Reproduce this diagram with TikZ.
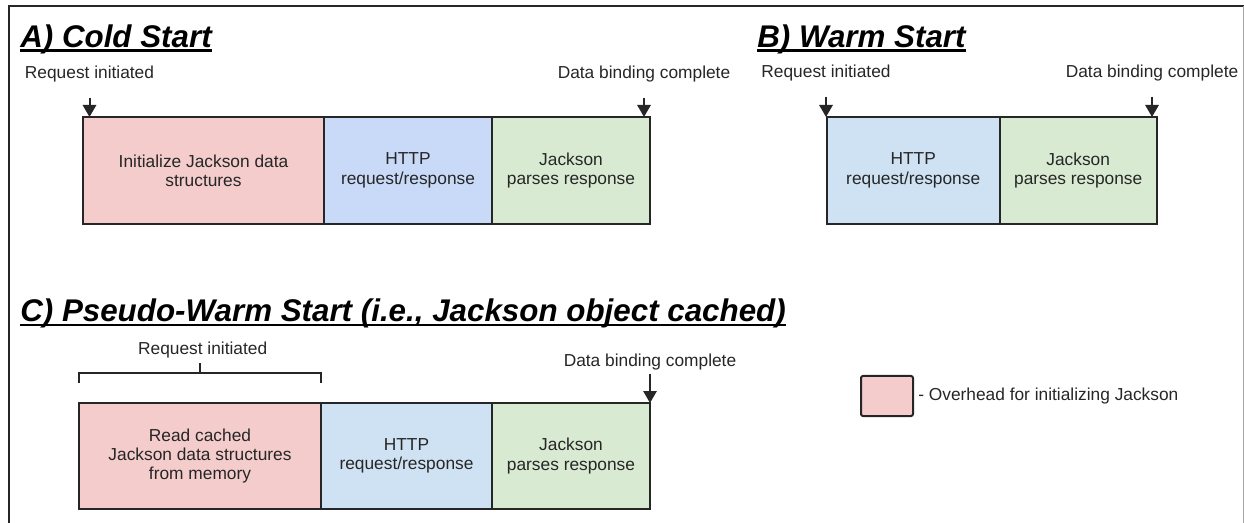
\documentclass[tikz,border=0pt]{standalone}
\usepackage{fontspec}
\setmainfont{Liberation Sans}
\usepackage{xcolor}
\usetikzlibrary{arrows.meta}
\usetikzlibrary{positioning}

\definecolor{overheadpink}{HTML}{F4CCCC}
\definecolor{httpblue}{HTML}{C9DAF8}
\definecolor{httplight}{HTML}{CFE2F3}
\definecolor{parsegreen}{HTML}{D9EAD3}
\definecolor{ink}{HTML}{262626}

\begin{document}
\begin{tikzpicture}[x=0.75pt,y=-0.75pt]
\tikzset{stage/.style={rectangle,draw=ink,line width=1.5pt,outer sep=0pt,minimum height=80.25pt,align=center,text=ink,font=\fontsize{13}{14.5}\selectfont},
heading/.style={anchor=base west,inner sep=0pt,text=black,font=\fontsize{23.5}{28}\selectfont\bfseries\itshape},
event/.style={anchor=base,inner sep=0pt,text=ink,font=\fontsize{13}{15}\selectfont},
marker/.style={draw=ink,line width=1.5pt,-{Triangle[width=10pt,length=9pt]},shorten <=11pt},
bracket/.style={draw=ink,line width=1.5pt}}
\useasboundingbox (0,0) rectangle (1244,523);
% frame round the sheet
\draw[line width=1.5pt,ink] (8.5,523) -- (8.5,6) -- (1244,6);
\draw[gray!70] (1243,6) -- (1243,523);

% A) cold start
\node[heading](ta) at (20,47.5){A) Cold Start};
\draw[line width=1.9pt] ([yshift=-2.3pt]ta.base west) -- ([yshift=-2.3pt]ta.base east);
\node[stage,fill=overheadpink,minimum width=180.75pt,anchor=north west](a1) at (83,117){Initialize Jackson data\\structures};
\node[stage,fill=httpblue,minimum width=126pt](a2)[right=0pt of a1]{HTTP\\request/response};
\node[stage,fill=parsegreen,minimum width=118.5pt](a3)[right=0pt of a2]{Jackson\\parses response};
\node[event](ra) at (89.5,79){Request initiated};
\draw[marker](ra) -- (ra |- a1.north);
\node[event](da) at (644,79){Data binding complete};
\draw[marker](da) -- (da |- a3.north);

% B) warm start
\node[heading](tb) at (757,47.5){B) Warm Start};
\draw[line width=1.9pt] ([yshift=-2.3pt]tb.base west) -- ([yshift=-2.3pt]tb.base east);
\node[stage,fill=httplight,minimum width=129.75pt,anchor=north west](b1) at (826.7,117){HTTP\\request/response};
\node[stage,fill=parsegreen,minimum width=117.75pt](b2)[right=0pt of b1]{Jackson\\parses response};
\node[event](rb) at (826,78){Request initiated};
\draw[marker](rb) -- (rb |- b1.north);
\node[event](db) at (1152,78){Data binding complete};
\draw[marker](db) -- (db |- b2.north);

% C) pseudo-warm start
\node[heading](tc) at (20,321.5){C) Pseudo-Warm Start (i.e., Jackson object cached)};
\draw[line width=1.9pt] ([yshift=-2.6pt]tc.base west) -- ([yshift=-2.6pt]tc.base east);
\node[stage,fill=overheadpink,minimum width=181.5pt,minimum height=79.5pt,anchor=north west](c1) at (79,403){Read cached\\Jackson data structures\\from memory};
\node[stage,fill=httplight,minimum width=128.25pt,minimum height=79.5pt](c2)[right=0pt of c1]{HTTP\\request/response};
\node[stage,fill=parsegreen,minimum width=118.5pt,minimum height=79.5pt](c3)[right=0pt of c2]{Jackson\\parses response};
\node[event](rc) at ([xshift=2pt]c1.north |- 0,355){Request initiated};
\draw[bracket]([yshift=15pt]c1.north west) |- ([yshift=22.5pt]c1.north) -| ([yshift=15pt]c1.north east);
\draw[bracket]([yshift=22.5pt]c1.north) -- ([yshift=30pt]c1.north);
\node[event](dc) at (650,367){Data binding complete};
\draw[marker,shorten <=2pt](dc) -- (dc |- c3.north);

% key
\node[draw=ink,line width=1.5pt,fill=overheadpink,rounded corners=1.5pt,minimum width=39pt,minimum height=30pt,anchor=north west](key) at (860,375){};
\node[event](keytext)[right=3pt of key]{- Overhead for initializing Jackson};
\end{tikzpicture}
\end{document}
